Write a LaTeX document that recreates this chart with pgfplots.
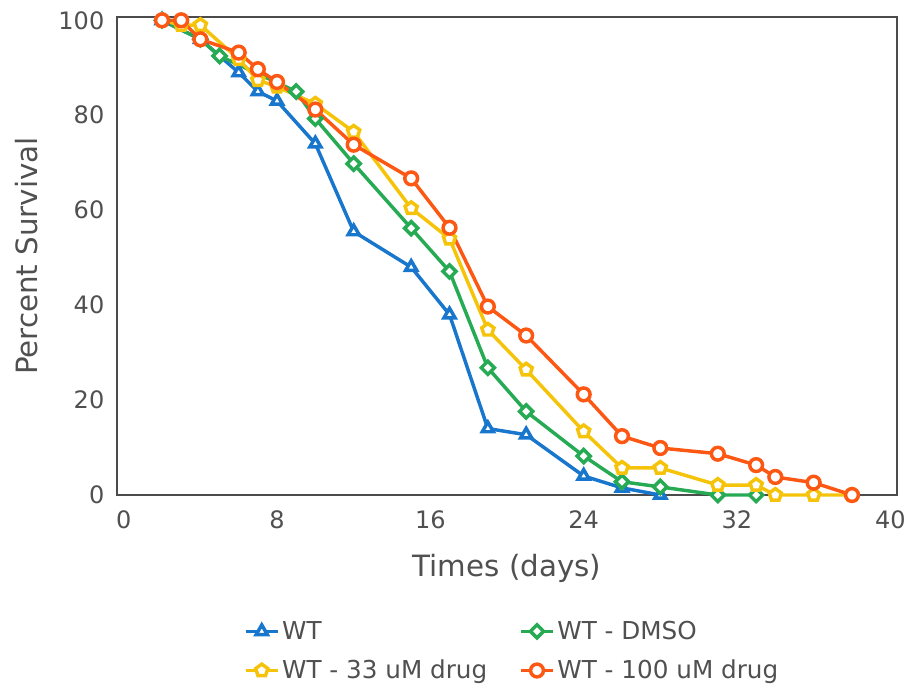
\documentclass[border=0pt]{standalone}
\usepackage{fontspec}
\setmainfont{DejaVu Sans}
\usepackage{pgfplots}
\pgfplotsset{compat=1.18}
\definecolor{cblue}{RGB}{24,118,204}
\definecolor{cgreen}{RGB}{38,170,84}
\definecolor{cyellow}{RGB}{245,196,10}
\definecolor{corange}{RGB}{252,88,20}
\definecolor{txt}{RGB}{80,80,80}
\definecolor{frame}{RGB}{75,75,75}
\begin{document}
\begin{tikzpicture}
\begin{axis}[
  scale only axis,
  width=585pt, height=358.5pt,
  xmin=-0.35, xmax=40.35, ymin=0, ymax=100.7,
  xtick={0,8,16,24,32,40}, ytick={0,20,40,60,80,100},
  major tick length=0pt,
  axis line style={draw=frame, line width=1.8pt},
  /pgf/number format/assume math mode=true,
  tick label style={font=\fontsize{18}{21}\selectfont, text=txt},
  yticklabel style={xshift=-6pt},
  xticklabel style={yshift=-8pt},
  every axis x label/.style={at={(axis description cs:0.5,0)}, anchor=center, yshift=-55pt},
  every axis y label/.style={at={(axis description cs:0,0.5)}, rotate=90, anchor=center, yshift=67.5pt},
  label style={font=\fontsize{22}{26}\selectfont, text=txt},
  xlabel={Times (days)},
  ylabel={Percent Survival},
  clip=false,
  legend columns=2,
  legend style={draw=none, fill=none, at={(axis description cs:0.507,-0.3264)}, anchor=center,
    font=\fontsize{18.5}{22}\selectfont, text=txt, row sep=10pt,
    /tikz/every even column/.append style={column sep=22pt}},
  legend cell align=left,
  legend image code/.code={\draw[mark repeat=2,mark phase=2] plot coordinates {(0pt,0pt) (12pt,0pt) (24pt,0pt)};},
  every axis plot/.append style={line width=2.6pt, mark size=4.8pt, mark options={fill=white, line width=1.6pt, solid}},
]
\addplot[color=cblue, mark=triangle*, mark options={fill=white}] coordinates {
(2,100) (4,96) (6,89) (7,85) (8,83) (10,74) (12,55.5) (15,48) (17,38) (19,14) (21,12.7) (24,4) (26,1.5) (28,0)};
\addlegendentry{WT}
\addplot[color=cgreen, mark=square*, mark size=3.5pt, mark options={fill=white, rotate=45}] coordinates {
(2,100) (4,96) (5,92.5) (9,85) (10,79.3) (12,69.8) (15,56.2) (17,47.1) (19,26.8) (21,17.6) (24,8.2) (26,2.8) (28,1.7) (31,0) (33,0)};
\addlegendentry{WT - DMSO}
\addplot[color=cyellow, mark=pentagon*, mark options={fill=white}] coordinates {
(2,100) (3,99) (4,99) (6,91.8) (7,87.4) (8,86) (10,82.4) (12,76.5) (15,60.4) (17,54) (19,34.8) (21,26.4) (24,13.4) (26,5.7) (28,5.7) (31,2.1) (33,2.1) (34,0) (36,0) (38,0)};
\addlegendentry{WT - 33 uM drug}
\addplot[color=corange, mark=*, mark options={fill=white}] coordinates {
(2,100) (3,100) (4,96) (6,93.2) (7,89.7) (8,87) (10,81.2) (12,73.8) (15,66.7) (17,56.3) (19,39.7) (21,33.6) (24,21.2) (26,12.4) (28,9.9) (31,8.7) (33,6.3) (34,3.8) (36,2.6) (38,0)};
\addlegendentry{WT - 100 uM drug}
\end{axis}
\pgfresetboundingbox
\path (-87.75pt,-147.75pt) rectangle (596.25pt,371.25pt);
\end{tikzpicture}
\end{document}
